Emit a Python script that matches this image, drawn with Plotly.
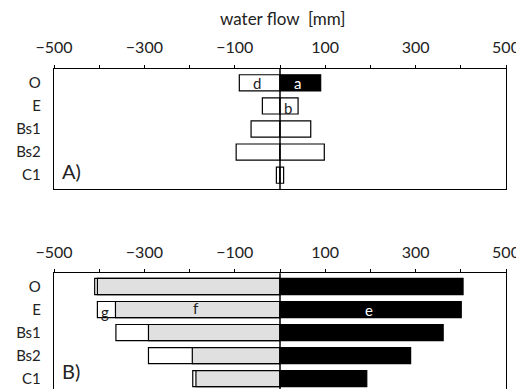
import plotly.graph_objects as go

horizons = ["O", "E", "Bs1", "Bs2", "C1"]
pos = [0, 1, 2, 3, 4]

# Panel A
a_left = [-90, -39, -64, -97, -8]
a_right = [90, 40, 68, 98, 8]

# Panel B
b_total = [-410, -404, -363, -291, -193]
b_gray = [-404, -364, -291, -194, -186]
b_right = [405, 401, 361, 289, 192]

tick_vals = [-500, -400, -300, -200, -100, 0, 100, 200, 300, 400, 500]
tick_text = ["\u2212500", "", "\u2212300", "", "\u2212100", "", "100", "", "300", "", "500"]

FONT = "Lato"
fig = go.Figure()

# Panel A
fig.add_trace(go.Bar(orientation="h", y=pos, x=[-v for v in a_left], base=a_left,
                     marker=dict(color="white", line=dict(color="black", width=1.2)),
                     width=0.7, xaxis="x", yaxis="y", showlegend=False))
fig.add_trace(go.Bar(orientation="h", y=pos, x=a_right, base=[0]*5,
                     marker=dict(color=["black", "white", "white", "white", "white"],
                                 line=dict(color="black", width=1.2)),
                     width=0.7, xaxis="x", yaxis="y", showlegend=False))

# Panel B
fig.add_trace(go.Bar(orientation="h", y=pos, x=[-v for v in b_total], base=b_total,
                     marker=dict(color="white", line=dict(color="black", width=1.2)),
                     width=0.7, xaxis="x2", yaxis="y2", showlegend=False))
fig.add_trace(go.Bar(orientation="h", y=pos, x=[-v for v in b_gray], base=b_gray,
                     marker=dict(color="#e0e0e0", line=dict(color="black", width=1.2)),
                     width=0.7, xaxis="x2", yaxis="y2", showlegend=False))
fig.add_trace(go.Bar(orientation="h", y=pos, x=b_right, base=[0]*5,
                     marker=dict(color="black", line=dict(color="black", width=1.2)),
                     width=0.7, xaxis="x2", yaxis="y2", showlegend=False))

xax = dict(range=[-500, 500], side="top", tickvals=tick_vals, ticktext=tick_text,
           ticks="outside", ticklen=3, tickcolor="black", showline=True, linecolor="black",
           linewidth=1.4, showgrid=False, zeroline=False, automargin=False,
           ticklabeloverflow="allow",
           tickfont=dict(family=FONT, size=16, color="#222"), ticklabelstandoff=5)
yax = dict(tickvals=pos, ticktext=horizons, ticks="", showline=True, linecolor="black",
           linewidth=1.4, mirror=True, showgrid=False, zeroline=False, automargin=False,
           tickfont=dict(family=FONT, size=15, color="#222"), ticklabelstandoff=9)

fig.update_layout(
    width=516, height=389,
    margin=dict(l=54, r=10, t=69, b=0),
    paper_bgcolor="white", plot_bgcolor="white",
    barmode="overlay",
    xaxis=dict(xax, anchor="y", mirror=True),
    yaxis=dict(yax, domain=[0.625, 1.0], range=[4.6, -0.6], anchor="x"),
    xaxis2=dict(xax, anchor="y2", mirror=False),
    yaxis2=dict(yax, domain=[0.0, 0.362], range=[4.45, -0.58], anchor="x2"),
)

# zero lines
for xr, yr in [("x", "y domain"), ("x2", "y2 domain")]:
    fig.add_shape(type="line", xref=xr, yref=yr, x0=0, x1=0, y0=0, y1=1,
                  line=dict(color="black", width=1.5), layer="above")

ann_font = dict(family=FONT, size=15, color="#222")
fig.add_annotation(text="water flow  [mm]", xref="x", yref="paper", x=5, y=1.0,
                   yanchor="middle", showarrow=False, yshift=51,
                   font=dict(family=FONT, size=17, color="#222"))

fig.add_annotation(text="d", x=-51, y=0, xref="x", yref="y", showarrow=False, font=ann_font)
fig.add_annotation(text="a", x=38, y=0, xref="x", yref="y", showarrow=False,
                   font=dict(family=FONT, size=15, color="white"))
fig.add_annotation(text="b", x=18, y=1.1, xref="x", yref="y", showarrow=False, font=ann_font)
fig.add_annotation(text="A)", x=-462, y=3.8, xref="x", yref="y", showarrow=False,
                   font=dict(family=FONT, size=20, color="#222"))

fig.add_annotation(text="g", x=-387, y=1.1, xref="x2", yref="y2", showarrow=False, font=ann_font)
fig.add_annotation(text="f", x=-185, y=0.95, xref="x2", yref="y2", showarrow=False, font=ann_font)
fig.add_annotation(text="e", x=197, y=1.0, xref="x2", yref="y2", showarrow=False,
                   font=dict(family=FONT, size=15, color="white"))
fig.add_annotation(text="B)", x=-462, y=3.65, xref="x2", yref="y2", showarrow=False,
                   font=dict(family=FONT, size=20, color="#222"))

fig.write_html("out.html", config={"displayModeBar": False},
               post_script="document.body.style.margin='0';document.body.style.overflow='hidden';")
